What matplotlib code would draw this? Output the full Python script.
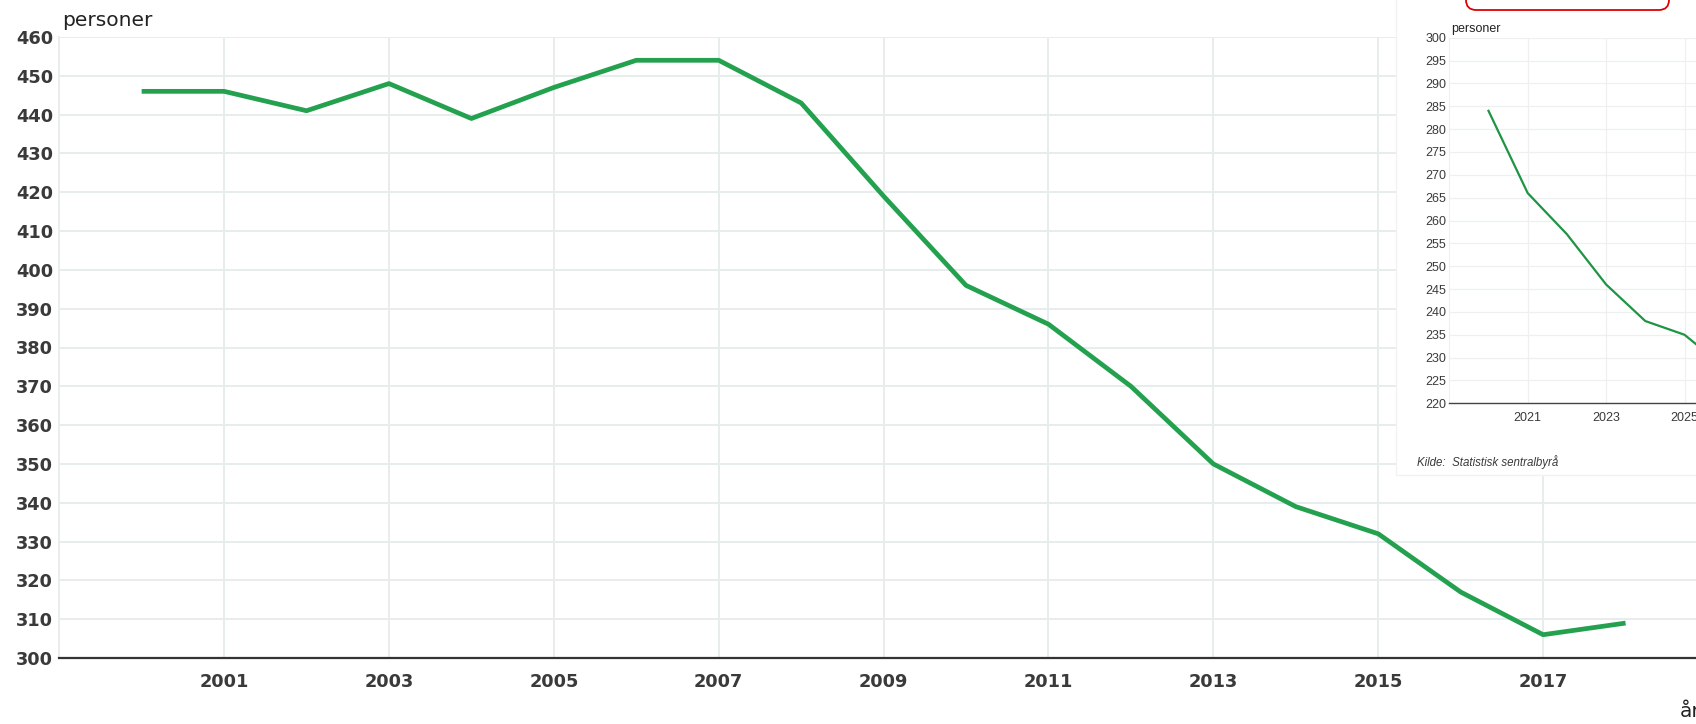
import matplotlib.pyplot as plt
from matplotlib.patches import Rectangle, FancyBboxPatch

plt.rcParams['font.family'] = ['Liberation Sans', 'DejaVu Sans']

# main series
years = list(range(2000, 2019))
persons = [446, 446, 441, 448, 439, 447, 454, 454, 443, 419,
           396, 386, 370, 350, 339, 332, 317, 306, 309]

# small chart in the corner
inset_years = [2020, 2021, 2022, 2023, 2024, 2025, 2026]
inset_persons = [284, 266, 257, 246, 238, 235, 228]

main_ticks_y = list(range(300, 461, 10))
main_ticks_x = list(range(2001, 2018, 2))
inset_ticks_y = list(range(220, 301, 5))
inset_ticks_x = list(range(2021, 2026, 2))

W, H = 1696, 724
fig = plt.figure(figsize=(W / 100, H / 100), dpi=100)
fig.patch.set_facecolor('white')

grid_col = '#e7ecec'
text_col = '#3a3a3a'
main_font = {'family': 'DejaVu Sans', 'weight': 'bold', 'size': 12.8}
label_font = {'family': 'DejaVu Sans', 'weight': 'normal', 'size': 14.5}

# main chart
ax = fig.add_axes([59.2 / W, 66 / H, 21 * 82.44 / W, 621 / H])
ax.plot(years, persons, color='#23a14e', linewidth=3.4, solid_capstyle='butt',
        solid_joinstyle='round', zorder=3)
ax.set_xlim(1999, 2020)
ax.set_ylim(300, 460)
ax.set_yticks(main_ticks_y)
ax.set_xticks(main_ticks_x)
ax.grid(True, color=grid_col, linewidth=1.4)
ax.set_axisbelow(True)
for side in ['top', 'right']:
    ax.spines[side].set_visible(False)
ax.spines['left'].set_color(grid_col)
ax.spines['left'].set_linewidth(1.4)
ax.spines['bottom'].set_color('#333333')
ax.spines['bottom'].set_linewidth(1.6)
ax.spines['bottom'].set_zorder(4)
ax.tick_params(axis='y', length=0, pad=4.3, labelcolor=text_col)
ax.tick_params(axis='x', length=0, pad=11, labelcolor=text_col)
for lab in ax.get_xticklabels() + ax.get_yticklabels():
    lab.set_fontproperties(main_font)
fig.text(62 / W, (H - 26) / H, 'personer', fontdict=label_font, color='#222222',
         va='baseline', ha='left')
fig.text(1680 / W, (H - 717) / H, 'år', fontdict=label_font, color='#222222',
         va='baseline', ha='left')

# white panel behind the small chart
panel = Rectangle((1396 / W, (H - 475) / H), 1.0, 1.0, transform=fig.transFigure,
                  facecolor='white', edgecolor='#f2f2f2', linewidth=1, zorder=1)
fig.add_artist(panel)

# small chart
ax2 = fig.add_axes([1449.3 / W, (H - 403.3) / H, 8 * 39.2 / W, 365.6 / H])
ax2.set_zorder(3)
ax2.patch.set_alpha(0)
ax2.plot(inset_years, inset_persons, color='#1e9444', linewidth=1.6, zorder=3)
ax2.set_xlim(2019, 2027)
ax2.set_ylim(220, 300)
ax2.set_yticks(inset_ticks_y)
ax2.set_xticks(inset_ticks_x)
ax2.grid(True, color='#edf0f0', linewidth=0.9)
ax2.set_axisbelow(True)
for side in ['top', 'right']:
    ax2.spines[side].set_visible(False)
ax2.spines['left'].set_color('#edf0f0')
ax2.spines['bottom'].set_color('#444444')
ax2.spines['bottom'].set_linewidth(1.0)
ax2.tick_params(axis='y', length=0, pad=2, labelsize=9, labelcolor=text_col)
ax2.tick_params(axis='x', length=0, pad=6, labelsize=9, labelcolor=text_col)
fig.text(1451 / W, (H - 32) / H, 'personer', fontsize=9, color='#222222',
         va='baseline', ha='left', zorder=4)
fig.text(1417 / W, (H - 466) / H, 'Kilde:  Statistisk sentralbyrå', fontsize=8.3,
         style='italic', color=text_col, va='baseline', ha='left', zorder=4)

# red box cut off at the top
box = FancyBboxPatch((1466 / W, (H - 10) / H), 203 / W, 30 / H,
                     boxstyle='round,pad=0,rounding_size=0.006',
                     transform=fig.transFigure, facecolor='white',
                     edgecolor='#e00000', linewidth=1.3, zorder=5,
                     mutation_aspect=W / H)
fig.add_artist(box)

fig.savefig('out.png', dpi=100)
